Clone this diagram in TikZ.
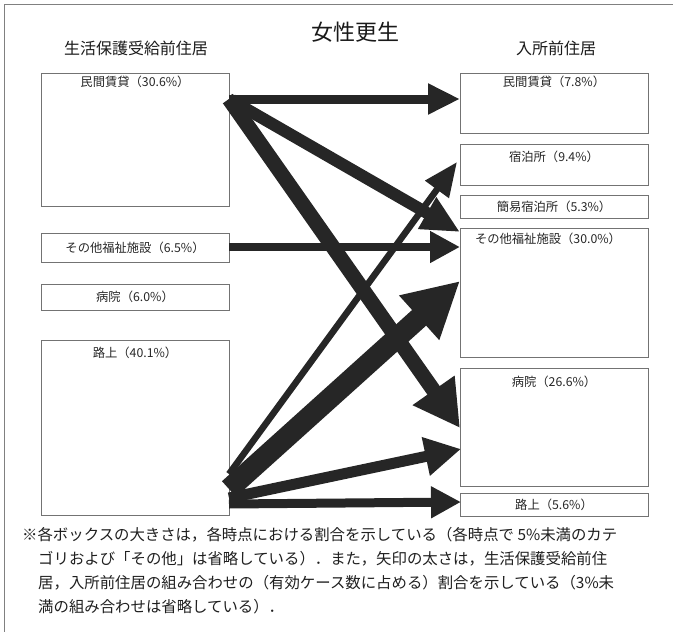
\documentclass[tikz,border=0pt]{standalone}
\usepackage{fontspec}
\setmainfont{Noto Sans CJK JP}
\usetikzlibrary{arrows.meta}
\begin{document}
\begin{tikzpicture}[x=1pt,y=-1pt,
  box/.style={draw=black!55,line width=0.9pt,inner sep=0pt,outer sep=0pt,anchor=north west,minimum width=188pt},
  lbl/.style={font=\fontsize{12.3}{14}\selectfont,text=black!85,inner sep=0pt},
  hdr/.style={font=\fontsize{16}{18}\selectfont,text=black!90},
  note/.style={font=\fontsize{15.4}{18}\selectfont,text=black!88,anchor=west,inner sep=0pt},
  arr/.style={draw=black!85,line join=miter}]
\useasboundingbox (0,0) rectangle (673,632);
\draw[black!50,line width=0.8pt] (673,4) -- (4,4) -- (4,632);

% titles
\node[font=\fontsize{22}{24}\selectfont,text=black!90] (title) at (355,32) {女性更生};
\node[hdr] (hl) at (136,48) {生活保護受給前住居};
\node[hdr] (hr) at (556,48) {入所前住居};

% left boxes
\node[box,minimum height=133pt] (L1) at (41,73) {};
\node[box,minimum height=29pt] (L2) at (41,233) {};
\node[box,minimum height=26pt] (L3) at (41,284) {};
\node[box,minimum height=175pt] (L4) at (41,340) {};
\node[lbl] (L1t) at ([yshift=-9pt]L1.north) {民間賃貸（30.6\%）};
\node[lbl] (L2t) at (L2.center) {その他福祉施設（6.5\%）};
\node[lbl] (L3t) at (L3.center) {病院（6.0\%）};
\node[lbl] (L4t) at ([yshift=-13pt]L4.north) {路上（40.1\%）};

% right boxes
\node[box,minimum height=60pt] (R1) at (460,73) {};
\node[box,minimum height=41pt] (R2) at (460,144) {};
\node[box,minimum height=23pt] (R3) at (460,195) {};
\node[box,minimum height=129pt] (R4) at (460,228) {};
\node[box,minimum height=118pt] (R5) at (460,368) {};
\node[box,minimum height=23pt] (R6) at (460,493) {};
\node[lbl] (R1t) at ([yshift=-9pt]R1.north) {民間賃貸（7.8\%）};
\node[lbl] (R2t) at ([yshift=-13pt]R2.north) {宿泊所（9.4\%）};
\node[lbl] (R3t) at (R3.center) {簡易宿泊所（5.3\%）};
\node[lbl] (R4t) at ([yshift=-11pt,xshift=-6pt]R4.north) {その他福祉施設（30.0\%）};
\node[lbl] (R5t) at ([yshift=-14pt]R5.north) {病院（26.6\%）};
\node[lbl] (R6t) at (R6.center) {路上（5.6\%）};

% arrows from 民間賃貸
\draw[arr,line width=9pt,-{Triangle[length=32pt,width=29pt]}] ([yshift=-26pt]L1.north east) -- ([yshift=-26pt]R1.north west);
\draw[arr,line width=12pt,-{Triangle[length=38pt,width=34pt]}] ([yshift=-26pt]L1.north east) -- ([yshift=-4pt]R4.north west);
\draw[arr,line width=15pt,-{Triangle[length=46pt,width=48pt]}] ([yshift=-26pt]L1.north east) -- ([yshift=-60pt]R5.north west);
% その他福祉施設
\draw[arr,line width=8pt,-{Triangle[length=30pt,width=30pt]}] ([yshift=-14pt]L2.north east) -- ([yshift=-19pt]R4.north west);
% arrows from 路上
\draw[arr,line width=6.5pt,-{Triangle[length=34pt,width=28pt]}] ([yshift=-134pt]L4.north east) -- ([yshift=-18pt,xshift=-3pt]R2.north west);
\draw[arr,line width=21pt,-{Triangle[length=55pt,width=56pt]}] ([yshift=-149pt]L4.north east) -- ([yshift=-53pt]R4.north west);
\draw[arr,line width=11pt,-{Triangle[length=36pt,width=37pt]}] ([yshift=-158pt]L4.north east) -- ([yshift=-81pt,xshift=1pt]R5.north west);
\draw[arr,line width=9pt,-{Triangle[length=30pt,width=30pt]}] ([yshift=-164pt]L4.north east) -- ([yshift=-9pt,xshift=1pt]R6.north west);

% footnote
\node[note] (n1) at (22,535) {※各ボックスの大きさは，各時点における割合を示している（各時点で 5\%未満のカテ};
\node[note] (n2) at (38,559) {ゴリおよび「その他」は省略している）．また，矢印の太さは，生活保護受給前住};
\node[note] (n3) at (38,583) {居，入所前住居の組み合わせの（有効ケース数に占める）割合を示している（3\%未};
\node[note] (n4) at (38,607) {満の組み合わせは省略している）．};
\end{tikzpicture}
\end{document}
